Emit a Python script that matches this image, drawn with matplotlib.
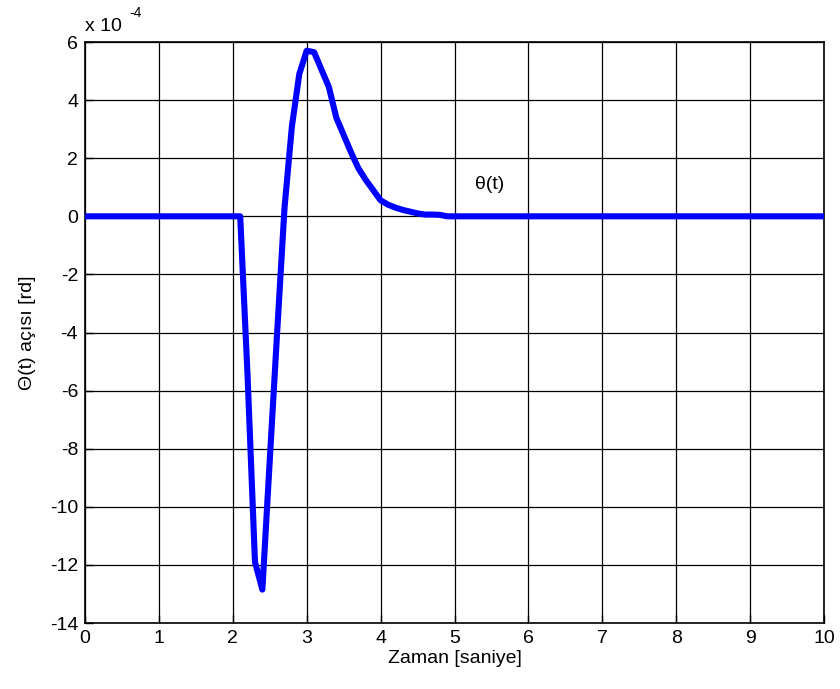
import matplotlib
matplotlib.use("Agg")
import matplotlib.pyplot as plt

plt.rcParams['font.family'] = ['Liberation Sans', 'DejaVu Sans']

# time [s]
t = [0.0, 2.1, 2.2, 2.3, 2.4, 2.5, 2.6, 2.7, 2.8, 2.9, 3.0, 3.1, 3.2, 3.3, 3.4,
     3.5, 3.6, 3.7, 3.8, 3.9, 4.0, 4.1, 4.2, 4.3, 4.4, 4.5, 4.6, 4.7, 4.8, 4.9, 10.0]
# theta(t) in units of 1e-4 rad
theta = [0.0, 0.0, -5.5, -11.9, -12.85, -8.4, -4.0, 0.3, 3.1, 4.9, 5.7, 5.65, 5.05,
         4.45, 3.4, 2.8, 2.2, 1.65, 1.25, 0.9, 0.55, 0.4, 0.3, 0.22, 0.16, 0.1,
         0.06, 0.06, 0.05, 0.0, 0.0]

xticks = list(range(0, 11))
yticks = list(range(-14, 7, 2))

fig = plt.figure(figsize=(8.4, 6.89), dpi=100)
ax = fig.add_axes([85/840, 1 - 623/689, (824 - 85)/840, (623 - 42)/689])

ax.plot(t, theta, color='#0000ff', linewidth=4.4, solid_joinstyle='round',
        solid_capstyle='butt', zorder=3)

ax.set_xlim(0, 10)
ax.set_ylim(-14, 6)
ax.set_xticks(xticks)
ax.set_yticks(yticks)
ax.set_xticklabels([str(v) for v in xticks])
ax.set_yticklabels([str(v) for v in yticks])
ax.grid(True, color='black', linewidth=0.9, linestyle='-')
ax.set_axisbelow(True)
ax.tick_params(direction='in', length=6, width=1, labelsize=14, pad=5,
               top=False, right=False)
for s in ax.spines.values():
    s.set_linewidth(1.2)

ax.set_xlabel('Zaman [saniye]', fontsize=14, labelpad=2)
ax.set_ylabel('Θ(t) açısı [rd]', fontsize=14, labelpad=10)

ax.text(0.0, 1.012, 'x 10', transform=ax.transAxes,
        fontsize=14, ha='left', va='bottom')
ax.text(0.060, 1.038, '-4', transform=ax.transAxes,
        fontsize=10, ha='left', va='bottom')
ax.text(5.48, 1.1, 'θ(t)', fontsize=14, ha='center', va='center')

fig.savefig('out.png', dpi=100)
